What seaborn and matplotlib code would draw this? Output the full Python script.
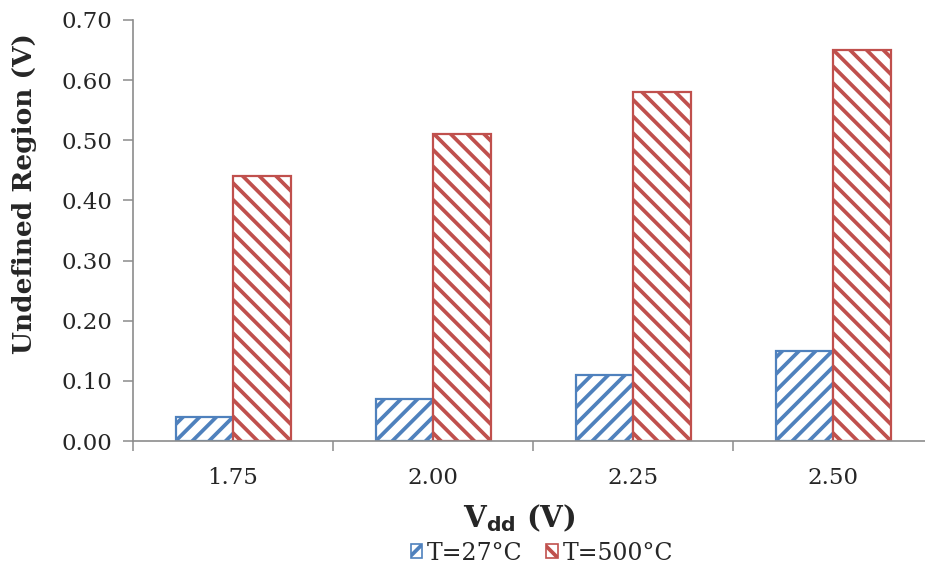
import matplotlib
matplotlib.use("Agg")
import matplotlib.pyplot as plt
import seaborn as sns
import pandas as pd
from matplotlib.ticker import FixedLocator

# Supply voltages and measured undefined-region widths
vdd_labels = ["1.75", "2.00", "2.25", "2.50"]
series_names = ["T=27°C", "T=500°C"]
undefined_27c = [0.04, 0.07, 0.11, 0.15]
undefined_500c = [0.44, 0.51, 0.58, 0.65]

df = pd.DataFrame({
    "Vdd": vdd_labels * 2,
    "Undefined": undefined_27c + undefined_500c,
    "Temp": [series_names[0]] * len(vdd_labels) + [series_names[1]] * len(vdd_labels),
})

sns.set_style("white")
plt.rcParams["font.family"] = ["DejaVu Serif"]
plt.rcParams["hatch.linewidth"] = 2.7

blue = "#4F81BD"
red = "#C0504D"
colors = {series_names[0]: blue, series_names[1]: red}
hatches = {series_names[0]: "//", series_names[1]: "\\\\"}

fig = plt.figure(figsize=(9.25, 5.72), dpi=100)
ax = fig.add_axes([133 / 925, 1 - 441 / 572, 800 / 925, 421 / 572])

sns.barplot(data=df, x="Vdd", y="Undefined", hue="Temp", order=vdd_labels,
            hue_order=series_names, palette=colors, width=0.575, ax=ax,
            legend=False, gap=0)

for container, name in zip(ax.containers, series_names):
    for bar in container:
        bar.set_facecolor("white")
        bar.set_edgecolor(colors[name])
        bar.set_hatch(hatches[name])
        bar.set_linewidth(1.6)

ax.set_xlim(-0.5, 3.5)
ax.set_ylim(0, 0.70)
ax.set_yticks([i / 10 for i in range(8)])
ax.set_yticklabels([f"{i / 10:.2f}" for i in range(8)])
ax.xaxis.set_minor_locator(FixedLocator([-0.5, 0.5, 1.5, 2.5]))

for side in ["top", "right"]:
    ax.spines[side].set_visible(False)
for side in ["left", "bottom"]:
    ax.spines[side].set_color("#8C8C8C")
    ax.spines[side].set_linewidth(1.2)

ax.tick_params(axis="y", which="major", left=True, length=7, width=1.1,
               color="#8C8C8C", labelsize=16.5, pad=8, direction="out")
ax.tick_params(axis="x", which="major", bottom=False, labelsize=16.5, pad=15)
ax.tick_params(axis="x", which="minor", bottom=True, length=7, width=1.1,
               color="#8C8C8C", direction="out")

ax.set_ylabel("Undefined Region (V)", fontsize=19, fontweight="bold")
ax.yaxis.set_label_coords(-(133 - 25) / 800, (441 - 194) / 421)
ax.yaxis.label.set_va("center")
ax.set_xlabel(r"V$_{\mathbf{dd}}$ (V)", fontsize=21, fontweight="bold")
ax.xaxis.set_label_coords((519 - 133) / 800, -(518 - 441) / 421)
ax.xaxis.label.set_va("center")

handles = [plt.Rectangle((0, 0), 1, 1, facecolor="white", edgecolor=colors[n],
                         hatch=hatches[n][0], linewidth=1.2) for n in series_names]
fig.legend(handles, series_names, loc="center", bbox_to_anchor=(542 / 925, 1 - 553 / 572),
           ncol=2, frameon=False, fontsize=17, handlelength=0.5, handleheight=0.5,
           handletextpad=0.2, columnspacing=1.0)

fig.savefig("out.png", dpi=100)
